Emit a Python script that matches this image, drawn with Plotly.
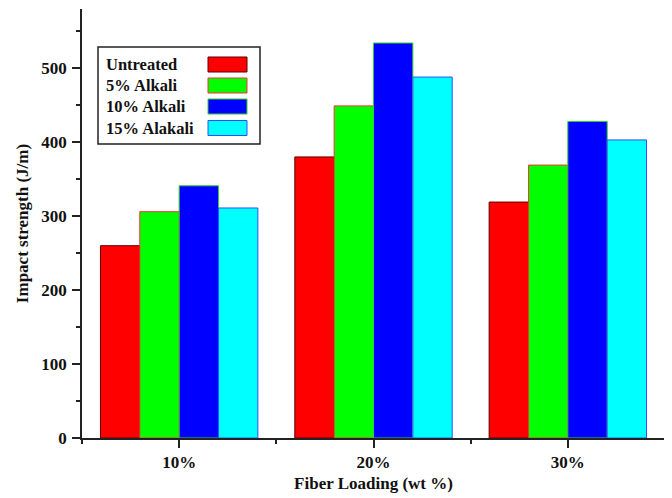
import plotly.graph_objects as go

categories = ["10%", "20%", "30%"]
series_names = ["Untreated", "5% Alkali", "10% Alkali", "15% Alakali"]
untreated = [260, 380, 319]
alkali_5 = [306, 449, 369]
alkali_10 = [341, 534, 428]
alkali_15 = [311, 488, 403]
series_values = [untreated, alkali_5, alkali_10, alkali_15]
fill_colors = ["#ff0000", "#00ff00", "#0000ff", "#00ffff"]
edge_colors = ["#600000", "#ff3030", "#30d030", "#3050ff"]

FONT = "Liberation Serif"
TXT = "#111111"

# page is shown with the default 8px body margin; work in page pixels
OFF = 8
PAGE_W, PAGE_H = 672, 498
W, H = PAGE_W - OFF, PAGE_H - OFF
L, R, T, B = 82, 665, 9, 438  # plot area in page pixels


def px_x(p):
    return (p - L) / (R - L)


def px_y(p):
    return (B - p) / (B - T)


positions = list(range(len(categories)))

fig = go.Figure()
for name, vals, fc, ec in zip(series_names, series_values, fill_colors, edge_colors):
    fig.add_trace(go.Bar(
        x=positions, y=vals, name=name,
        marker=dict(color=fc, line=dict(color=ec, width=1)),
        showlegend=False,
    ))

# manual legend (text left, swatch right, like the original)
shapes = [dict(type="rect", xref="paper", yref="paper",
               x0=px_x(98), x1=px_x(260), y0=px_y(144), y1=px_y(47),
               line=dict(color="#222222", width=1.5), fillcolor="rgba(0,0,0,0)")]
annotations = []
row_centers = [64.5, 85.5, 106.5, 128]
for i, (name, fc, ec) in enumerate(zip(series_names, fill_colors, edge_colors)):
    yc = row_centers[i]
    shapes.append(dict(type="rect", xref="paper", yref="paper",
                       x0=px_x(208), x1=px_x(247), y0=px_y(yc + 7.5), y1=px_y(yc - 7.5),
                       line=dict(color=ec, width=1), fillcolor=fc))
    annotations.append(dict(x=px_x(104), y=px_y(yc), xref="paper", yref="paper",
                            text="<b>%s</b>" % name, showarrow=False,
                            xanchor="left", yanchor="middle",
                            font=dict(family=FONT, size=16.5, color=TXT)))

fig.update_layout(
    width=W, height=H,
    margin=dict(l=L - OFF, r=PAGE_W - R, t=T - OFF, b=PAGE_H - B, autoexpand=False),
    paper_bgcolor="white", plot_bgcolor="white",
    barmode="group", bargap=0.19, bargroupgap=0,
    shapes=shapes, annotations=annotations,
    font=dict(family=FONT, color=TXT),
)

fig.update_xaxes(
    range=[-0.5, 2.5],
    tickmode="array", tickvals=positions,
    ticktext=["<b>%s</b>" % c for c in categories],
    tickfont=dict(family=FONT, size=17, color=TXT),
    ticks="outside", ticklen=8, tickwidth=1.5, tickcolor="#222222",
    minor=dict(tickmode="array", tickvals=[-0.5, 0.5, 1.5, 2.5],
               ticks="outside", ticklen=4, tickwidth=1.5, tickcolor="#222222"),
    showline=True, linecolor="#222222", linewidth=1.5,
    showgrid=False, zeroline=False,
    title=dict(text="<b>Fiber Loading (wt %)</b>", standoff=6,
               font=dict(family=FONT, size=17, color=TXT)),
    automargin=False,
)
fig.update_yaxes(
    range=[0, 580],
    tickmode="linear", tick0=0, dtick=100,
    tickprefix="<b>", ticksuffix="</b>",
    tickfont=dict(family=FONT, size=17, color=TXT),
    ticks="outside", ticklen=8, tickwidth=1.5, tickcolor="#222222",
    ticklabelstandoff=2,
    minor=dict(tick0=0, dtick=50, ticks="outside", ticklen=4, tickwidth=1.5,
               tickcolor="#222222"),
    showline=True, linecolor="#222222", linewidth=1.5,
    showgrid=False, zeroline=False,
    title=dict(text="<b>Impact strength (J/m)</b>", standoff=8,
               font=dict(family=FONT, size=17, color=TXT)),
    automargin=False,
)

fig.write_html("out.html")
